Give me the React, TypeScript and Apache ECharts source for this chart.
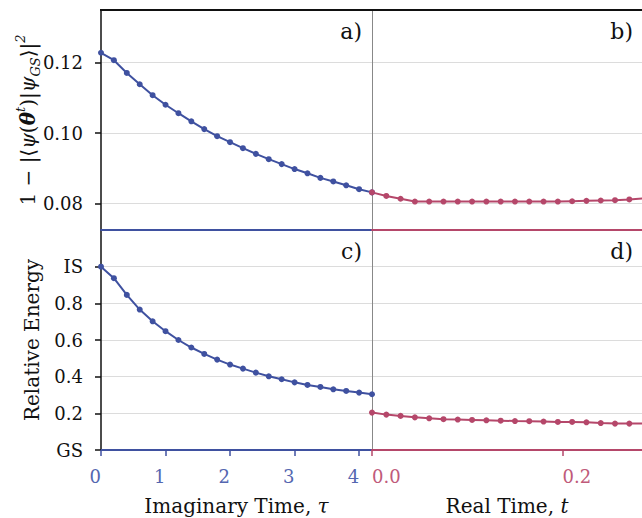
import React, { useEffect, useRef } from "react";
import * as echarts from "echarts";

// ---- data ----
const tauImag = [0, 0.2, 0.4, 0.6, 0.8, 1.0, 1.2, 1.4, 1.6, 1.8, 2.0, 2.2, 2.4, 2.6, 2.8, 3.0, 3.2, 3.4, 3.6, 3.8, 4.0, 4.2];
const infidelityImag = [0.1227, 0.1206, 0.117, 0.1138, 0.1107, 0.108, 0.1056, 0.1033, 0.1011, 0.0991, 0.0974, 0.0957, 0.0941, 0.0926, 0.0912, 0.0898, 0.0886, 0.0873, 0.0863, 0.0852, 0.0841, 0.0832];
const energyImag = [1.0, 0.937, 0.846, 0.766, 0.702, 0.648, 0.6, 0.559, 0.524, 0.493, 0.466, 0.444, 0.422, 0.402, 0.386, 0.369, 0.355, 0.344, 0.331, 0.322, 0.313, 0.304];

const tReal = [0, 0.015, 0.03, 0.045, 0.06, 0.075, 0.09, 0.105, 0.12, 0.135, 0.15, 0.165, 0.18, 0.195, 0.21, 0.225, 0.24, 0.255, 0.27, 0.285];
const infidelityReal = [0.0832, 0.0822, 0.0814, 0.0806, 0.0806, 0.0806, 0.0806, 0.0806, 0.0806, 0.0806, 0.0806, 0.0806, 0.0806, 0.0806, 0.0807, 0.0808, 0.0809, 0.081, 0.0812, 0.0815];
const energyReal = [0.204, 0.193, 0.186, 0.178, 0.173, 0.168, 0.166, 0.164, 0.162, 0.16, 0.158, 0.157, 0.155, 0.153, 0.153, 0.151, 0.147, 0.144, 0.144, 0.144];

const infidelityTicks = [0.08, 0.1, 0.12];
const energyTicks = [0, 0.2, 0.4, 0.6, 0.8, 1.0];
const tauTicks = [0, 1, 2, 3, 4];
const tRealTicks = [0, 0.2];

const BLUE = "#3f51a0";
const RED = "#b5476a";
const BLUE_L = "#5466b0";
const RED_L = "#c05a7a";
const FONT = "DejaVu Serif";
const GRID_C = "#dcdcdc";

export default function App() {
  const ref = useRef<HTMLDivElement>(null);
  useEffect(() => {
    const chart = echarts.init(ref.current!, null, { renderer: "svg" });
    const pair = (xs: number[], ys: number[]) => xs.map((x, i) => [x, ys[i]]);
    const L = 101, M = 372, R = 642, T = 10, MID = 230, B = 450;

    const xBase = (gi: number, max: number, color: string) => ({
      type: "value",
      gridIndex: gi,
      min: 0,
      max,
      splitLine: { show: false },
      axisLine: { show: true, onZero: false, lineStyle: { color, width: 2 } },
      axisTick: { show: false },
      axisLabel: { show: false },
    });

    const yBase = (gi: number, min: number, max: number, ticks: number[], left: boolean, fmt: (v: number) => string) => ({
      type: "value",
      gridIndex: gi,
      min,
      max,
      axisLine: { show: true, onZero: false, lineStyle: { color: left ? "#111" : "#888", width: left ? 1.5 : 1 } },
      axisTick: { show: left, length: 6, customValues: ticks, lineStyle: { color: "#111", width: 1.5 } },
      axisLabel: {
        show: left,
        customValues: ticks,
        formatter: fmt,
        fontFamily: FONT,
        fontSize: 18,
        color: "#111",
        margin: 18,
      },
      splitLine: { show: true, lineStyle: { color: GRID_C, width: 1 } },
    });

    const fmtInf = (v: number) => v.toFixed(2);
    const fmtEn = (v: number) => (Math.abs(v) < 1e-9 ? "GS" : Math.abs(v - 1) < 1e-9 ? "IS" : v.toFixed(1));

    const line = (xi: number, data: number[][], color: string) => ({
      type: "line",
      xAxisIndex: xi,
      yAxisIndex: xi,
      data,
      clip: true,
      symbol: "circle",
      symbolSize: 6,
      showSymbol: true,
      lineStyle: { color, width: 2 },
      itemStyle: { color },
    });

    chart.setOption({
      animation: false,
      grid: [
        { left: L, top: T, width: M - L, height: MID - T },
        { left: M, top: T, width: R - M, height: MID - T },
        { left: L, top: MID, width: M - L, height: B - MID },
        { left: M, top: MID, width: R - M, height: B - MID },
      ],
      xAxis: [
        xBase(0, 4.2, BLUE),
        xBase(1, 0.2833, RED),
        {
          ...xBase(2, 4.2, BLUE),
          axisTick: { show: true, length: 6, customValues: tauTicks, lineStyle: { color: BLUE, width: 1.5 } },
          axisLabel: {
            show: true,
            customValues: tauTicks,
            formatter: (v: number) => String(v),
            fontFamily: FONT,
            fontSize: 18,
            color: BLUE_L,
            align: "right",
            margin: 17,
          },
        },
        {
          ...xBase(3, 0.2833, RED),
          axisTick: { show: true, length: 6, customValues: tRealTicks, lineStyle: { color: RED, width: 1.5 } },
          axisLabel: {
            show: true,
            customValues: tRealTicks,
            formatter: (v: number) => v.toFixed(1),
            fontFamily: FONT,
            fontSize: 18,
            color: RED_L,
            align: "left",
            margin: 17,
          },
        },
      ],
      yAxis: [
        yBase(0, 0.07256, 0.1348, infidelityTicks, true, fmtInf),
        yBase(1, 0.07256, 0.1348, infidelityTicks, false, fmtInf),
        yBase(2, 0, 1.2, energyTicks, true, fmtEn),
        yBase(3, 0, 1.2, energyTicks, false, fmtEn),
      ],
      series: [
        line(0, pair(tauImag, infidelityImag), BLUE),
        line(1, pair(tReal, infidelityReal), RED),
        line(2, pair(tauImag, energyImag), BLUE),
        line(3, pair(tReal, energyReal), RED),
      ],
      graphic: [
        { type: "line", shape: { x1: L - 1, y1: T, x2: R, y2: T }, style: { stroke: "#111", lineWidth: 2 }, z: 10 },
        { type: "text", x: 362, y: 20, style: { text: "a)", fontFamily: FONT, fontSize: 22, fill: "#111", align: "right", verticalAlign: "top" } },
        { type: "text", x: 633, y: 20, style: { text: "b)", fontFamily: FONT, fontSize: 22, fill: "#111", align: "right", verticalAlign: "top" } },
        { type: "text", x: 362, y: 240, style: { text: "c)", fontFamily: FONT, fontSize: 22, fill: "#111", align: "right", verticalAlign: "top" } },
        { type: "text", x: 633, y: 240, style: { text: "d)", fontFamily: FONT, fontSize: 22, fill: "#111", align: "right", verticalAlign: "top" } },
        {
          type: "text",
          x: 236.5,
          y: 506,
          style: {
            text: "{n|Imaginary Time, }{i|τ}",
            align: "center",
            verticalAlign: "middle",
            rich: {
              n: { fontFamily: FONT, fontSize: 20, fill: "#111" },
              i: { fontFamily: FONT, fontSize: 20, fontStyle: "italic", fill: "#111" },
            },
          },
        },
        {
          type: "text",
          x: 507,
          y: 506,
          style: {
            text: "{n|Real Time, }{i|t}",
            align: "center",
            verticalAlign: "middle",
            rich: {
              n: { fontFamily: FONT, fontSize: 20, fill: "#111" },
              i: { fontFamily: FONT, fontSize: 20, fontStyle: "italic", fill: "#111" },
            },
          },
        },
        {
          type: "text",
          x: 32,
          y: 340,
          rotation: Math.PI / 2,
          style: { text: "Relative Energy", fontFamily: FONT, fontSize: 20, fill: "#111", align: "center", verticalAlign: "middle" },
        },
        {
          type: "text",
          x: 28,
          y: 120,
          rotation: Math.PI / 2,
          style: {
            text: "{m|1 − |⟨}{i|ψ}{m|(}{b|θ}{sup|t}{m|)|}{i|ψ}{sub|GS}{m|⟩|}{sup|2}",
            align: "center",
            verticalAlign: "middle",
            rich: {
              m: { fontFamily: FONT, fontSize: 20, fill: "#111", lineHeight: 28, verticalAlign: "middle" },
              i: { fontFamily: FONT, fontSize: 20, fontStyle: "italic", fill: "#111", lineHeight: 28, verticalAlign: "middle" },
              b: { fontFamily: FONT, fontSize: 20, fontStyle: "italic", fontWeight: "bold", fill: "#111", lineHeight: 28, verticalAlign: "middle" },
              sup: { fontFamily: FONT, fontSize: 13, fontStyle: "italic", fill: "#111", lineHeight: 13, verticalAlign: "top" },
              sub: { fontFamily: FONT, fontSize: 13, fontStyle: "italic", fill: "#111", lineHeight: 13, verticalAlign: "bottom" },
            },
          },
        },
      ],
    });
    return () => chart.dispose();
  }, []);
  return <div ref={ref} style={{ position: "absolute", left: 0, top: 0, width: 642, height: 518 }} />;
}
